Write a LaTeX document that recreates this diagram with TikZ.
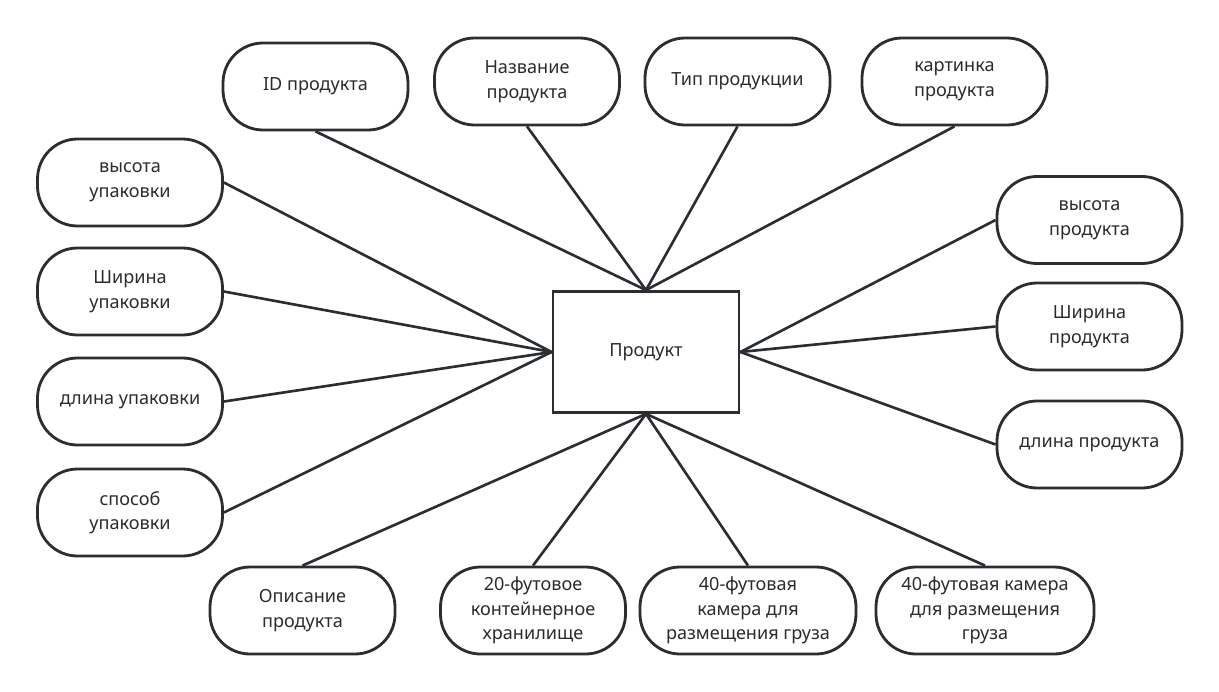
\documentclass[tikz,border=0pt]{standalone}
\usepackage{fontspec}
\setmainfont{Noto Sans}
\usetikzlibrary{positioning}
\definecolor{colLine}{HTML}{2A2E32}
\definecolor{colText}{HTML}{2B2B2B}

\tikzset{
	attr/.style={draw=colLine, line width=1.6pt, rounded corners=0.8cm,
		minimum width=3.7cm, minimum height=1.74cm, align=center, text=colText},
	entity/.style={draw=colLine, line width=1.6pt,
		minimum width=3.72cm, minimum height=2.42cm, text=colText},
	link/.style={draw=colLine, line width=1.5pt}
}

\begin{document}
\begin{tikzpicture}[font=\fontsize{10.3}{14}\selectfont]
		\useasboundingbox (0,0) rectangle (24.38,-13.82);
		% central entity
		\node[entity] (prod) at (12.92,-7.04) {Продукт};
		% top row
		\node[attr] (id)   at (6.31,-1.73)  {ID продукта};
		\node[attr] (name) at (10.54,-1.63) {Название\\продукта};
		\node[attr] (type) at (14.75,-1.63) {Тип продукции};
		\node[attr] (pic)  at (19.09,-1.63) {картинка\\продукта};
		% left column
		\node[attr] (hpack) at (2.60,-3.65)  {высота\\упаковки};
		\node[attr] (wpack) at (2.60,-5.83)  {Ширина\\упаковки};
		\node[attr] (lpack) at (2.60,-8.03)  {длина упаковки};
		\node[attr] (mpack) at (2.60,-10.25) {способ\\упаковки};
		% right column
		\node[attr] (hprod) at (21.79,-4.40) {высота\\продукта};
		\node[attr] (wprod) at (21.79,-6.53) {Ширина\\продукта};
		\node[attr] (lprod) at (21.79,-8.89) {длина продукта};
		% bottom row
		\node[attr] (desc) at (6.05,-12.21)  {Описание\\продукта};
		\node[attr] (c20)  at (10.66,-12.21) {20-футовое\\контейнерное\\хранилище};
		\node[attr, minimum width=4.32cm] (c40a) at (14.96,-12.21)
			{40-футовая\\камера для\\размещения груза};
		\node[attr, minimum width=4.36cm] (c40b) at (19.70,-12.21)
			{40-футовая камера\\для размещения\\груза};
		% connectors
		\foreach \n in {id, name, type, pic}
			\draw[link] (prod.north) -- (\n.south);
		\foreach \n in {hpack, wpack, lpack, mpack}
			\draw[link] (prod.west) -- (\n.east);
		\foreach \n in {hprod, wprod, lprod}
			\draw[link] (prod.east) -- (\n.west);
		\foreach \n in {desc, c20, c40a, c40b}
			\draw[link] (prod.south) -- (\n.north);
\end{tikzpicture}
\end{document}
